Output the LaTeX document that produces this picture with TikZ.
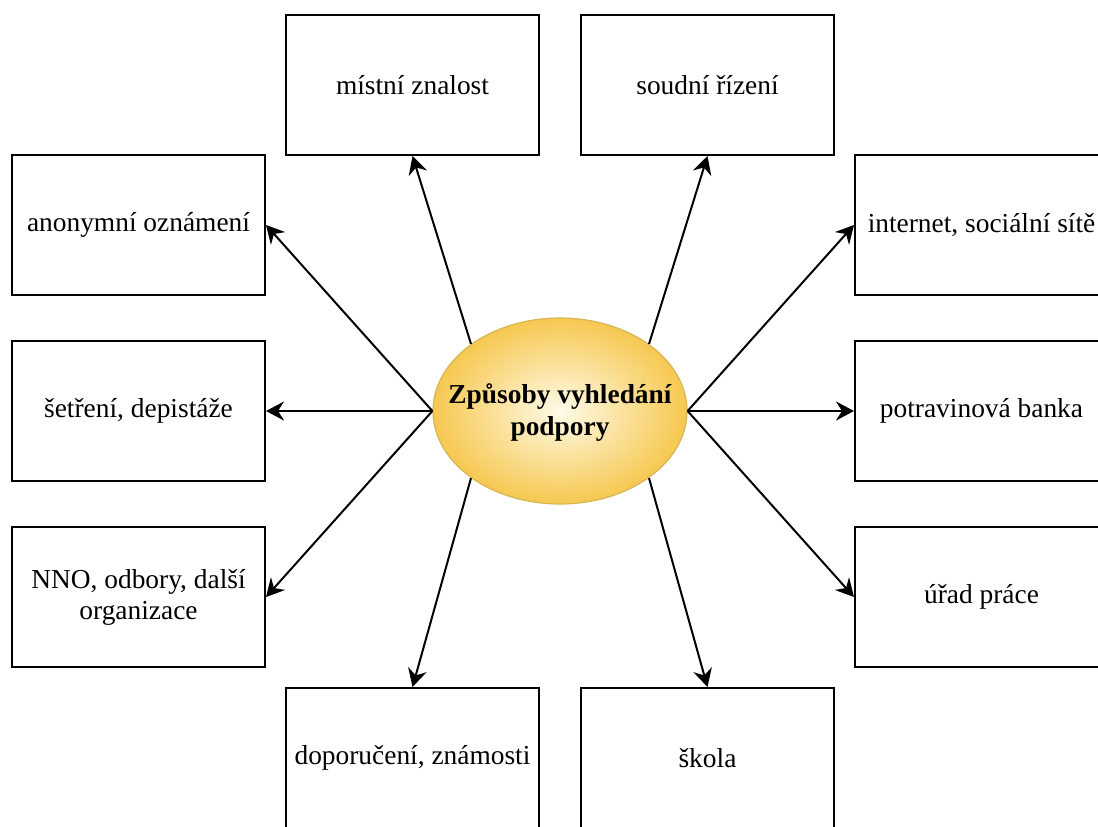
\documentclass[tikz,border=0pt]{standalone}
\usepackage{fontspec}
\setmainfont{Liberation Serif}
\usepackage{xcolor}
\usepackage{tikz}
\usetikzlibrary{shapes.geometric,arrows.meta}

\definecolor{hubinner}{RGB}{255,250,232}
\definecolor{hubouter}{RGB}{246,200,80}
\definecolor{hubline}{RGB}{214,182,86}

\tikzset{
  waybox/.style={draw, line width=1pt, minimum width=126.5pt, minimum height=70pt,
    inner sep=0pt, align=center, font=\fontsize{13.7}{15.5}\selectfont},
  wayarrow/.style={-{Stealth[length=9pt,width=9.5pt,inset=3pt]}, line width=1pt},
}

\begin{document}
\begin{tikzpicture}[x=0.5pt,y=-0.5pt]
    % Canvas
    \clip (0,0) rectangle (1098,826);

    % Centre ellipse
    \node[ellipse, draw=hubline, line width=0.6pt, shading=radial,
          inner color=hubinner, outer color=hubouter,
          minimum width=127pt, minimum height=93pt] (hub) at (560,411) {};
    \node[align=center, font=\fontsize{13.7}{16}\selectfont\bfseries] (hubtext) at (560,413)
        {Způsoby vyhledání\\podpory};

    % Boxes round it
    \node[waybox] (mistni)   at (412.5,85)   {místní znalost};
    \node[waybox] (soudni)   at (707.5,85)   {soudní řízení};
    \node[waybox] (anonym)   at (138.5,225)  {anonymní oznámení};
    \node[waybox] (internet) at (981.5,225)  {internet, sociální sítě};
    \node[waybox] (setreni)  at (138.5,411)  {šetření, depistáže};
    \node[waybox] (potrav)   at (981.5,411)  {potravinová banka};
    \node[waybox] (nno)      at (138.5,597)  {NNO, odbory, další\\organizace};
    \node[waybox] (urad)     at (981.5,597)  {úřad práce};
    \node[waybox] (doporuc)  at (412.5,758)  {doporučení, známosti};
    \node[waybox] (skola)    at (707.5,758)  {škola};

    % Arrows out of the ellipse
    \draw[wayarrow] (hub.143) -- (mistni.south);
    \draw[wayarrow] (hub.37)  -- (soudni.south);
    \draw[wayarrow] (hub.west) -- (anonym.east);
    \draw[wayarrow] (hub.west) -- (setreni.east);
    \draw[wayarrow] (hub.west) -- (nno.east);
    \draw[wayarrow] (hub.east) -- (internet.west);
    \draw[wayarrow] (hub.east) -- (potrav.west);
    \draw[wayarrow] (hub.east) -- (urad.west);
    \draw[wayarrow] (hub.217) -- (doporuc.north);
    \draw[wayarrow] (hub.323) -- (skola.north);
\end{tikzpicture}
\end{document}
